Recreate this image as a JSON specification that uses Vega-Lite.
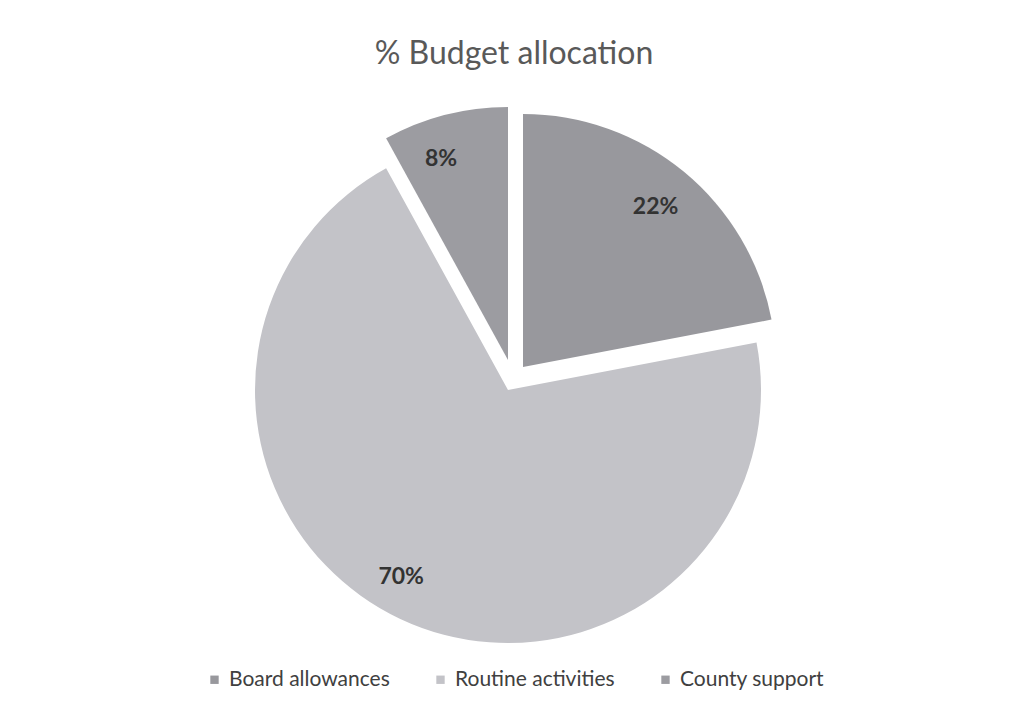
{
  "$schema": "https://vega.github.io/schema/vega-lite/v6.json",
  "autosize": "none",
  "width": 1006,
  "height": 554,
  "padding": {"left": 11, "top": 101, "right": 0, "bottom": 58},
  "background": "white",
  "title": {"text": "% Budget allocation", "font": "Lato", "fontSize": 32, "fontWeight": "normal", "color": "#595959", "offset": 30, "anchor": "middle"},
  "config": {"view": {"stroke": null}, "legend": {"layout": {"bottom": {"anchor": "middle"}}}},
  "data": {"values": [
    {"category": "Board allowances", "value": 22, "label": "22%", "order": 1},
    {"category": "Routine activities", "value": 70, "label": "70%", "order": 2},
    {"category": "County support", "value": 8, "label": "8%", "order": 3}
  ]},
  "encoding": {
    "theta": {"field": "value", "type": "quantitative", "stack": true},
    "order": {"field": "order", "type": "quantitative"}
  },
  "layer": [
    {
      "mark": {"type": "arc", "outerRadius": 253, "xOffset": 9, "yOffset": -11},
      "encoding": {
        "color": {"field": "category", "type": "nominal", "sort": ["Board allowances", "Routine activities", "County support"],
          "scale": {"domain": ["Board allowances", "Routine activities", "County support"], "range": ["#98989d", "#c3c3c8", "#9c9ca1"]},
          "legend": {"orient": "bottom", "direction": "horizontal", "title": null, "symbolType": "square", "symbolSize": 70, "labelFont": "Lato", "labelFontSize": 21, "labelColor": "#404040", "labelLimit": 400, "columnPadding": 40, "offset": 14}},
        "fillOpacity": {"condition": {"test": "datum.category === 'Board allowances'", "value": 1}, "value": 0}
      }
    },
    {
      "mark": {"type": "arc", "outerRadius": 253, "xOffset": -6, "yOffset": 12},
      "encoding": {
        "color": {"field": "category", "type": "nominal"},
        "fillOpacity": {"condition": {"test": "datum.category === 'Routine activities'", "value": 1}, "value": 0}
      }
    },
    {
      "mark": {"type": "arc", "outerRadius": 253, "xOffset": -6, "yOffset": -18},
      "encoding": {
        "color": {"field": "category", "type": "nominal"},
        "fillOpacity": {"condition": {"test": "datum.category === 'County support'", "value": 1}, "value": 0}
      }
    },
    {
      "mark": {"type": "text", "radius": 208, "xOffset": 9, "yOffset": -11, "font": "Lato", "fontSize": 23, "fontWeight": "bold", "fill": "#333333"},
      "encoding": {"text": {"condition": {"test": "datum.category === 'Board allowances'", "field": "label"}, "value": ""}}
    },
    {
      "mark": {"type": "text", "radius": 215, "thetaOffset": 0.08, "xOffset": -6, "yOffset": 12, "font": "Lato", "fontSize": 23, "fontWeight": "bold", "fill": "#333333"},
      "encoding": {"text": {"condition": {"test": "datum.category === 'Routine activities'", "field": "label"}, "value": ""}}
    },
    {
      "mark": {"type": "text", "radius": 212, "thetaOffset": -0.07, "xOffset": -6, "yOffset": -18, "font": "Lato", "fontSize": 23, "fontWeight": "bold", "fill": "#333333"},
      "encoding": {"text": {"condition": {"test": "datum.category === 'County support'", "field": "label"}, "value": ""}}
    }
  ]
}
